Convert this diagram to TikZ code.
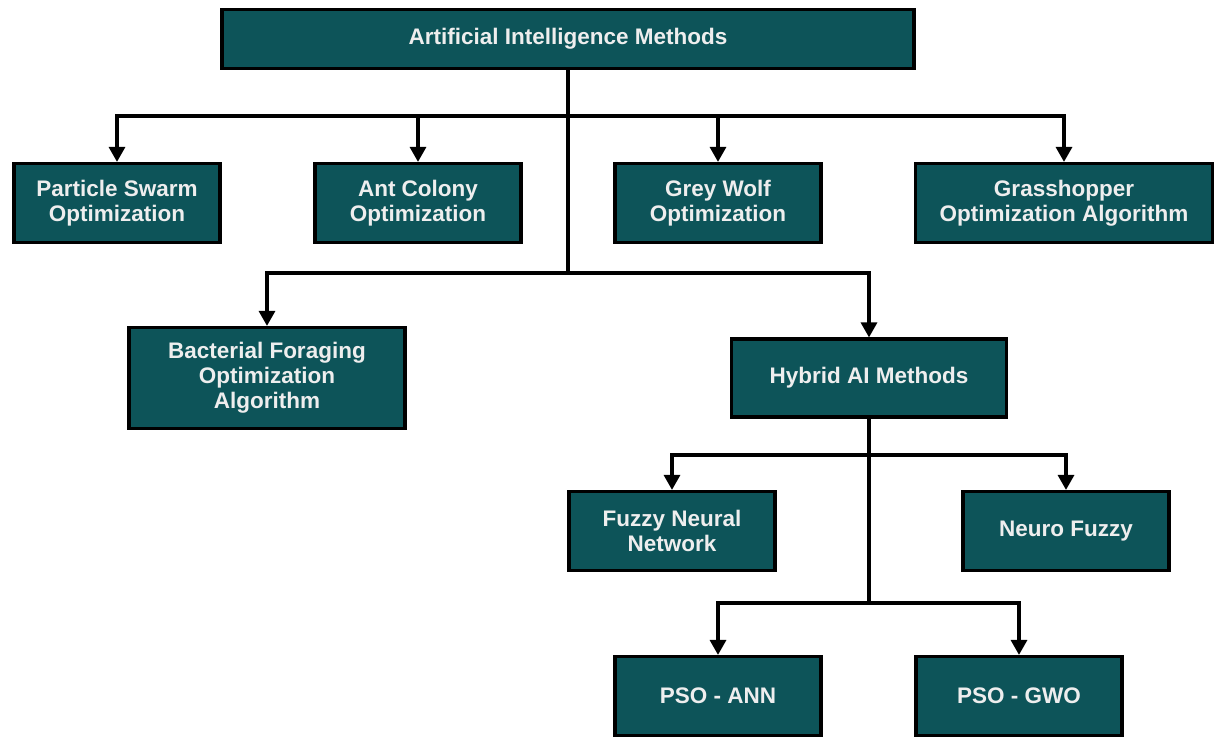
\documentclass[tikz,border=0pt]{standalone}
\usepackage{fontspec}
\setmainfont{Liberation Sans}
\usetikzlibrary{arrows.meta}
\definecolor{teal}{RGB}{13,84,89}
\definecolor{label}{RGB}{238,238,238}
\tikzset{
	box/.style={draw=black, line width=3.2pt, fill=teal, text=label, align=center,
		font=\fontsize{22.5}{25}\selectfont\bfseries, inner sep=2pt,
		minimum width=206pt, minimum height=79pt},
	link/.style={line width=3.2pt, line cap=rect},
	arrow/.style={line width=3.2pt, -{Triangle[width=16pt, length=15pt]}}
}
\begin{document}
\begin{tikzpicture}[x=1pt, y=-1pt]
		\useasboundingbox (0,0) rectangle (1214,738);
		\coordinate (busA) at (568,116);
		\coordinate (busB) at (568,273);
		\coordinate (busC) at (869,455);
		\coordinate (busD) at (869,603);
		\node[box, minimum width=692pt, minimum height=59pt] (root) at (568,39) {Artificial Intelligence Methods};
		\node[box] (pso) at (117,203) {Particle Swarm\\Optimization};
		\node[box] (aco) at (418,203) {Ant Colony\\Optimization};
		\node[box] (gwo) at (718,203) {Grey Wolf\\Optimization};
		\node[box, minimum width=297pt] (goa) at (1064,203) {Grasshopper\\Optimization Algorithm};
		\node[box, minimum width=276pt, minimum height=101pt] (bfoa) at (267,378) {Bacterial Foraging\\Optimization\\Algorithm};
		\node[box, minimum width=275pt, minimum height=78pt] (hyb) at (869,378) {Hybrid AI Methods};
		\node[box] (fnn) at (672,531) {Fuzzy Neural\\Network};
		\node[box] (nf) at (1066,531) {Neuro Fuzzy};
		\node[box] (ann) at (718,696) {PSO - ANN};
		\node[box] (pgwo) at (1019,696) {PSO - GWO};
		% first level
		\draw[link] (root.south) -- (busB);
		\draw[arrow] (busA) -| (pso.north);
		\draw[arrow] (busA) -| (aco.north);
		\draw[arrow] (busA) -| (gwo.north);
		\draw[arrow] (busA) -| (goa.north);
		\draw[arrow] (busB) -| (bfoa.north);
		\draw[arrow] (busB) -| (hyb.north);
		% hybrid methods
		\draw[link] (hyb.south) -- (busD);
		\draw[arrow] (busC) -| (fnn.north);
		\draw[arrow] (busC) -| (nf.north);
		\draw[arrow] (busD) -| (ann.north);
		\draw[arrow] (busD) -| (pgwo.north);
	\end{tikzpicture}
\end{document}
